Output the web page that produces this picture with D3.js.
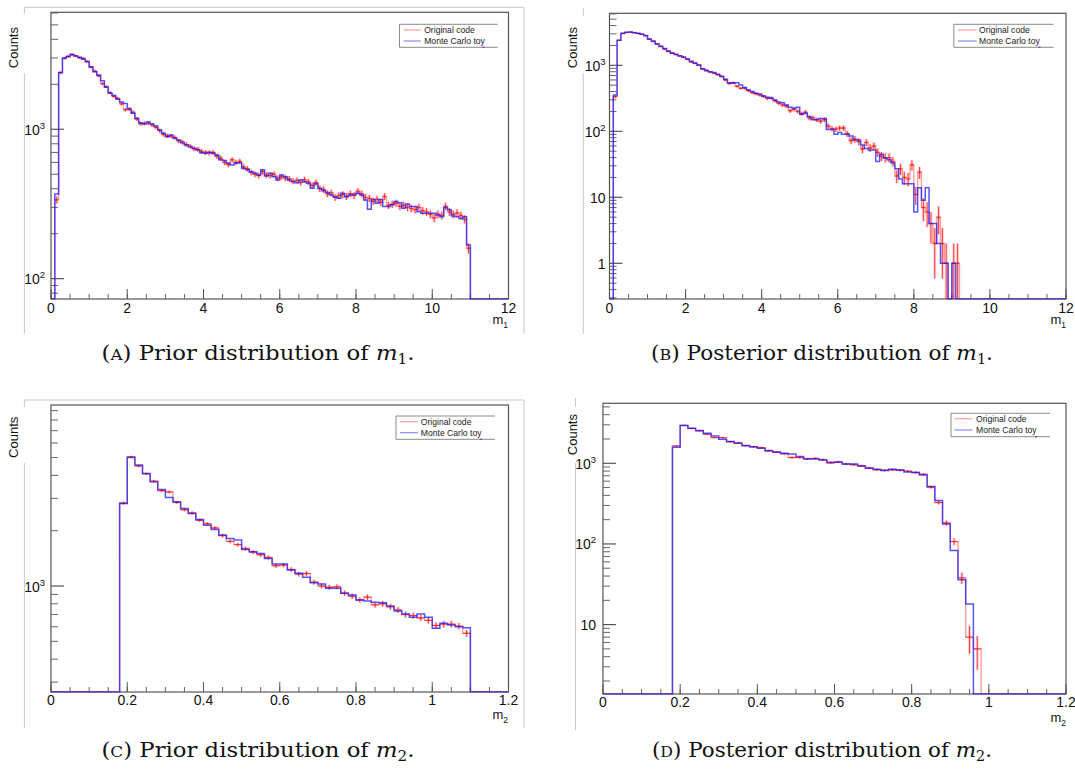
<!DOCTYPE html>
<html><head><meta charset="utf-8">
<script src="https://cdn.jsdelivr.net/npm/d3@7"></script>
<style>body{margin:0;background:#fff}svg{display:block}</style>
</head><body>
<svg id="c" width="1075" height="771"></svg>
<script>
// ---------------- data ----------------
const m1BinWidth = 0.1;
const m2BinWidth = 0.02;

const priorM1Start = 0.1;
const priorM1Original = [337,2390,2990,3080,3150,3100,3010,2980,2850,2600,
 2450,2280,2020,1930,1760,1660,1610,1480,1350,1360,
 1300,1170,1090,1095,1100,1070,1030,980,925,905,
 900,880,835,820,790,770,740,735,710,700,
 695,700,660,640,600,580,625,600,610,560,
 545,515,500,490,520,495,490,500,470,480,
 470,465,450,455,440,460,445,420,440,400,
 395,370,375,350,360,365,355,370,360,385,
 370,350,345,330,340,325,355,310,315,320,
 305,310,300,295,290,300,285,280,270,255,
 270,265,305,280,270,275,265,250,160];
const priorM1Toy = [369,2395,2985,3060,3180,3090,3030,2940,2830,2620,
 2430,2310,2110,1910,1740,1680,1590,1520,1490,1380,
 1280,1185,1107,1085,1120,1085,1052,989,940,892,
 916,870,848,814,785,765,747,727,697,690,
 702,690,673,624,617,592,577,592,597,548,
 535,520,507,494,535,487,507,482,458,494,
 482,458,446,439,458,446,435,403,432,403,
 388,377,363,354,345,373,354,363,368,373,
 363,336,292,339,320,339,304,304,312,328,
 322,296,316,304,304,281,274,274,274,274,
 267,260,300,289,263,260,253,260,168];

const posteriorM1Start = 0.1;
const posteriorM1Original = [335,2390,3040,3150,3180,3140,3030,2960,2800,2500,
 2300,2120,1950,1760,1620,1540,1450,1380,1330,1230,
 1120,1070,1010,880,840,790,760,720,680,600,
 530,545,480,448,450,415,385,370,355,340,
 315,320,290,265,250,240,205,215,200,185,
 195,160,160,150,142,150,120,110,108,112,
 112,92,72,76,70,54,68,56,60,48,
 42,40,40,35,21,27,20,19,31,11,
 24,7,6,4,2,5,2,1,0,1,
 1,0];
const posteriorM1Toy = [355,2395,3050,3160,3200,3120,3050,2950,2820,2480,
 2340,2100,1920,1790,1650,1520,1470,1400,1320,1250,
 1150,1085,1000,890,830,800,775,730,675,615,
 546,535,546,503,460,423,400,377,368,343,
 327,316,298,278,272,250,231,223,231,181,
 188,167,150,150,157,157,107,107,90,96,
 90,90,85,74,74,62,55,52,52,35,
 45,39,37,33,27,19,16,16,16,6,
 14,9,14,4,4,2,1,1,0,1];

const priorM2Start = 0.18;
const priorM2Original = [2830,5050,4500,4080,3720,3300,3250,2850,2600,2500,
 2280,2180,2070,1880,1750,1680,1600,1530,1480,1430,
 1290,1300,1230,1160,1170,1050,1000,985,990,915,
 880,840,870,790,800,770,740,700,690,670,
 650,610,620,620,605,553];
const priorM2Toy = [2815,5010,4550,4100,3690,3355,3035,2873,2643,2483,
 2301,2143,2031,1892,1816,1778,1582,1536,1504,1413,
 1316,1316,1222,1172,1115,1043,1026,971,971,912,
 893,839,828,815,810,778,731,705,676,705,
 677,589,627,614,601,593];

const posteriorM2Start = 0.18;
const posteriorM2Original = [1640,2950,2700,2520,2290,2080,2080,1850,1790,1650,
 1600,1560,1440,1380,1310,1180,1180,1140,1150,1110,
 1010,1040,980,960,930,875,830,820,830,820,
 800,770,730,505,326,182,107,38,7,5];
const posteriorM2Toy = [1578,2930,2716,2541,2355,2183,1983,1857,1770,1656,
 1600,1540,1422,1368,1330,1306,1211,1133,1133,1099,
 1030,1030,982,982,927,867,843,811,843,827,
 781,767,718,514,345,177,83,36,18];

const m1Ticks = [0,2,4,6,8,10,12];
const m2Ticks = [0,0.2,0.4,0.6,0.8,1,1.2];
const legendLabels = ["Original code","Monte Carlo toy"];
const yTitle = "Counts";
const captionLetters = ["A","B","C","D"];
const captionTexts = ["Prior distribution of","Posterior distribution of","Prior distribution of","Posterior distribution of"];
const captionSubs = ["1","1","2","2"];

// ---------------- layout ----------------
const panels = [
 {orig:priorM1Original, toy:priorM1Toy, start:priorM1Start, bw:m1BinWidth, xmax:12, ticks:m1Ticks, minor:0.5, sub:"1",
  ydom:[73.1,6067], box:{x0:51,x1:508.5,y0:12.3,y1:299},
  outer:{l:24.4,r:524,t:7.3,b:334,g0:14,g1:73,top:true},
  leg:{x0:399.5,x1:497.6,y0:24.3,y1:47.3,lx0:403.6,lx1:420.8,tx:424.2,rows:[30,41]},
  counts:{x:13.8,y:27}, xt:{x:508,y:324}, tickY:313.3, ygap:6,
  cap:{x:258,y:360,w:313}},
 {orig:posteriorM1Original, toy:posteriorM1Toy, start:posteriorM1Start, bw:m1BinWidth, xmax:12, ticks:m1Ticks, minor:0.5, sub:"1",
  ydom:[0.288,6138], box:{x0:609.5,x1:1066,y0:13.3,y1:299},
  outer:{l:583.3,r:null,t:8.3,b:334,g0:16,g1:73,top:false},
  leg:{x0:953.8,x1:1053.5,y0:24.3,y1:47.3,lx0:958,lx1:976.7,tx:979.1,rows:[30,41]},
  counts:{x:572.4,y:27}, xt:{x:1066,y:324}, tickY:313, ygap:4,
  cap:{x:822,y:360,w:342}},
 {orig:priorM2Original, toy:priorM2Toy, start:priorM2Start, bw:m2BinWidth, xmax:1.2, ticks:m2Ticks, minor:0.05, sub:"2",
  ydom:[265,9660], box:{x0:51,x1:508.5,y0:405,y1:692},
  outer:{l:24.4,r:524,t:400,b:728,g0:407,g1:463,top:true},
  leg:{x0:396,x1:494.8,y0:416,y1:439.3,lx0:400,lx1:417.7,tx:420.8,rows:[421.7,432.7]},
  counts:{x:13.8,y:416.7}, xt:{x:508,y:719}, tickY:705, ygap:6,
  cap:{x:258,y:757,w:313}},
 {orig:posteriorM2Original, toy:posteriorM2Toy, start:posteriorM2Start, bw:m2BinWidth, xmax:1.2, ticks:m2Ticks, minor:0.05, sub:"2",
  ydom:[1.38,5540], box:{x0:603,x1:1066,y0:403.3,y1:694},
  outer:{l:575.5,r:null,t:398.3,b:730,g0:406.7,g1:463,top:false},
  leg:{x0:951,x1:1050,y0:413.3,y1:436.7,lx0:954.5,lx1:972.6,tx:976,rows:[418.7,430]},
  counts:{x:572,y:414}, xt:{x:1066,y:722}, tickY:707, ygap:7,
  cap:{x:822,y:757,w:340}}
];

const RED_STEP = "rgba(255,40,40,0.45)";
const RED_ERR = "rgba(255,0,0,0.7)";
const RED_ERR_PALE = "rgba(255,0,0,0.18)";
const BLUE = "rgba(20,20,255,0.72)";
const FRAME = "#555";
const SANS = "Liberation Sans, Arial, Helvetica, sans-serif";

const svg = d3.select("#c");
svg.append("rect").attr("width",1075).attr("height",771).attr("fill","#fff");
const defs = svg.append("defs");

panels.forEach((p, pi) => {
  const g = svg.append("g");
  const b = p.box;
  const x = d3.scaleLinear().domain([0, p.xmax]).range([b.x0, b.x1]);
  const y = d3.scaleLog().domain(p.ydom).range([b.y1, b.y0]);
  const Y = v => (v > 0 ? Math.min(y(v), b.y1) : b.y1);

  // outer image frame (light gray)
  const o = p.outer, fc = "#c9c9c9";
  g.append("line").attr("x1",o.l).attr("x2",o.l).attr("y1",o.t).attr("y2",o.g0).attr("stroke",fc);
  g.append("line").attr("x1",o.l).attr("x2",o.l).attr("y1",o.g1).attr("y2",o.b).attr("stroke",fc);
  if (o.r) g.append("line").attr("x1",o.r).attr("x2",o.r).attr("y1",o.t).attr("y2",o.b).attr("stroke",fc);
  if (o.top) g.append("line").attr("x1",o.l).attr("x2",o.r).attr("y1",o.t).attr("y2",o.t).attr("stroke",fc);

  // clip
  const cid = "clip" + pi;
  defs.append("clipPath").attr("id", cid).append("rect")
    .attr("x", b.x0).attr("y", b.y0 - 1).attr("width", b.x1 - b.x0).attr("height", b.y1 - b.y0 + 1.5);

  // frame
  g.append("rect").attr("x",b.x0).attr("y",b.y0).attr("width",b.x1-b.x0).attr("height",b.y1-b.y0)
    .attr("fill","none").attr("stroke",FRAME).attr("stroke-width",1.2);

  // x ticks
  const nMinor = Math.round(p.xmax / p.minor);
  const minorX = d3.range(nMinor + 1).map(i => i * p.minor);
  g.selectAll(null).data(minorX).join("line")
    .attr("x1", d => x(d)).attr("x2", d => x(d)).attr("y1", b.y1).attr("y2", b.y1 - 5)
    .attr("stroke","#666").attr("stroke-width",1);
  g.selectAll(null).data(p.ticks).join("line")
    .attr("x1", d => x(d)).attr("x2", d => x(d)).attr("y1", b.y1).attr("y2", b.y1 - 10)
    .attr("stroke","#555").attr("stroke-width",1);
  g.selectAll(null).data(p.ticks).join("text")
    .attr("x", d => x(d)).attr("y", p.tickY).attr("text-anchor","middle")
    .attr("font-family",SANS).attr("font-size",14).attr("fill","#111")
    .text(d => d3.format("~g")(d));

  // y ticks
  const [ymin, ymax] = p.ydom;
  const d0 = Math.floor(Math.log10(ymin)), d1 = Math.ceil(Math.log10(ymax));
  const majors = [], minors = [];
  for (let d = d0; d <= d1; d++) {
    const base = Math.pow(10, d);
    if (base >= ymin && base <= ymax) majors.push(d);
    for (let m = 2; m <= 9; m++) { const v = m * base; if (v >= ymin && v <= ymax) minors.push(v); }
  }
  g.selectAll(null).data(minors).join("line")
    .attr("x1", b.x0).attr("x2", b.x0 + 7).attr("y1", d => y(d)).attr("y2", d => y(d))
    .attr("stroke","#666").attr("stroke-width",1);
  g.selectAll(null).data(majors).join("line")
    .attr("x1", b.x0).attr("x2", b.x0 + 13).attr("y1", d => y(Math.pow(10,d))).attr("y2", d => y(Math.pow(10,d)))
    .attr("stroke","#555").attr("stroke-width",1.2);
  majors.forEach(d => {
    const t = g.append("text").attr("x", b.x0 - p.ygap).attr("y", y(Math.pow(10,d)) + 5.5)
      .attr("text-anchor","end").attr("font-family",SANS).attr("font-size",14).attr("fill","#111");
    if (d === 0) t.text("1");
    else if (d === 1) t.text("10");
    else { t.append("tspan").text("10"); t.append("tspan").attr("font-size",9.5).attr("dy",-6).text(String(d)); }
  });

  // histogram layers
  const N = Math.round(p.xmax / p.bw);
  const s0 = Math.round(p.start / p.bw);
  const full = arr => d3.range(N).map(j => (j >= s0 && j < s0 + arr.length ? arr[j - s0] : 0));
  const stepPts = arr => {
    const f = full(arr); const pts = [[x(0), Y(f[0])]];
    f.forEach((v, j) => { pts.push([x(j * p.bw), Y(v)]); pts.push([x((j + 1) * p.bw), Y(v)]); });
    return pts;
  };
  const line = d3.line();
  const hg = g.append("g").attr("clip-path", `url(#${cid})`);

  hg.append("path").attr("d", line(stepPts(p.orig))).attr("fill","none")
    .attr("stroke", RED_STEP).attr("stroke-width",1.4);

  const errs = p.orig.map((v, i) => ({v, lo:(s0 + i) * p.bw, hi:(s0 + i + 1) * p.bw})).filter(d => d.v > 0);
  hg.selectAll(null).data(errs).join("line")
    .attr("x1", d => x((d.lo + d.hi) / 2)).attr("x2", d => x((d.lo + d.hi) / 2))
    .attr("y1", d => Y(d.v + Math.sqrt(d.v))).attr("y2", d => Y(d.v - Math.sqrt(d.v)))
    .attr("stroke", RED_ERR_PALE).attr("stroke-width",3);
  hg.selectAll(null).data(errs).join("line")
    .attr("x1", d => x((d.lo + d.hi) / 2)).attr("x2", d => x((d.lo + d.hi) / 2))
    .attr("y1", d => Y(d.v + Math.sqrt(d.v))).attr("y2", d => Y(d.v - Math.sqrt(d.v)))
    .attr("stroke", RED_ERR).attr("stroke-width",1);
  hg.selectAll(null).data(errs).join("line")
    .attr("x1", d => x(d.lo)).attr("x2", d => x(d.hi))
    .attr("y1", d => Y(d.v)).attr("y2", d => Y(d.v))
    .attr("stroke", RED_ERR).attr("stroke-width",1);

  hg.append("path").attr("d", line(stepPts(p.toy))).attr("fill","none")
    .attr("stroke", BLUE).attr("stroke-width",1.5);

  // legend
  const L = p.leg, lc = "#8a8a8a";
  g.append("rect").attr("x",L.x0).attr("y",L.y0).attr("width",L.x1-L.x0).attr("height",L.y1-L.y0).attr("fill","#fff").attr("stroke","none");
  g.append("line").attr("x1",L.x0).attr("x2",L.x1).attr("y1",L.y0).attr("y2",L.y0).attr("stroke",lc);
  g.append("line").attr("x1",L.x0).attr("x2",L.x1).attr("y1",L.y1).attr("y2",L.y1).attr("stroke",lc);
  g.append("line").attr("x1",L.x0).attr("x2",L.x0).attr("y1",L.y0).attr("y2",L.y1).attr("stroke",lc);
  g.append("line").attr("x1",L.x1-15).attr("x2",L.x1-13).attr("y1",L.y1).attr("y2",L.y1).attr("stroke","#a040c0").attr("stroke-width",1.5);
  const legColors = [RED_STEP, "rgba(40,40,255,0.55)"];
  legendLabels.forEach((lab, k) => {
    g.append("line").attr("x1",L.lx0).attr("x2",L.lx1).attr("y1",L.rows[k]).attr("y2",L.rows[k])
      .attr("stroke",legColors[k]).attr("stroke-width",1.2);
    g.append("text").attr("x",L.tx).attr("y",L.rows[k] + 3).attr("font-family",SANS)
      .attr("font-size",8.6).attr("fill","#222").text(lab);
  });

  // axis titles
  g.append("text").attr("transform",`translate(${p.counts.x + 4.5},${p.counts.y}) rotate(-90)`)
    .attr("text-anchor","end").attr("font-family",SANS).attr("font-size",13).attr("fill","#111").text(yTitle);
  const xt = g.append("text").attr("x",p.xt.x).attr("y",p.xt.y).attr("text-anchor","end")
    .attr("font-family",SANS).attr("font-size",13).attr("fill","#111");
  xt.append("tspan").text("m");
  xt.append("tspan").attr("font-size",8.5).attr("dy",4).text(p.sub);

  // caption
  const c = p.cap;
  const t = svg.append("text").attr("x",c.x).attr("y",c.y).attr("text-anchor","middle")
    .attr("font-family","DejaVu Serif, serif").attr("font-size",21).attr("fill","#111")
    .attr("textLength",c.w).attr("lengthAdjust","spacingAndGlyphs");
  t.append("tspan").text("(");
  t.append("tspan").attr("font-size",15.5).text(captionLetters[pi]);
  t.append("tspan").text(") " + captionTexts[pi] + " ");
  t.append("tspan").attr("font-style","italic").text("m");
  t.append("tspan").attr("font-size",14).attr("dy",4).text(captionSubs[pi]);
  t.append("tspan").attr("dy",-4).text(".");
});
</script>
</body></html>
